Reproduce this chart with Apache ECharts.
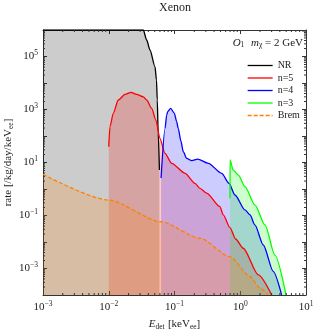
<!DOCTYPE html>
<html><head><meta charset="utf-8">
<script src="https://cdn.jsdelivr.net/npm/echarts@6/dist/echarts.min.js"></script>
<style>html,body{margin:0;padding:0;background:#fff}#c{width:316px;height:329px}</style>
</head><body><div id="c"></div>
<script>
// ---- data ----
const nrE = [0.001, 0.0335, 0.0377, 0.0424, 0.0505, 0.0532, 0.0547, 0.0565, 0.059];
const nrR = [1e6, 1e6, 4.2e5, 1.76e5, 4.1e4, 1.3e4, 2.3e3, 130, 5.2];
const n5E = [0.01, 0.01044, 0.01172, 0.01396, 0.01766, 0.0218, 0.0266, 0.0336, 0.0377, 0.045, 0.052, 0.060, 0.0717, 0.0906, 0.145, 0.205, 0.244, 0.309, 0.49, 0.552, 0.698, 0.85, 1.11, 1.88, 3.0];
const n5R = [39, 224, 720, 2280, 3700, 4460, 3700, 3000, 2280, 1110, 400, 82, 22, 9.3, 3.9, 1.64, 1.06, 0.7, 0.215, 0.105, 0.035, 0.013, 5.8e-3, 5.7e-4, 1e-4];
const n4E = [0.0625, 0.0718, 0.076, 0.0789, 0.0875, 0.0993, 0.108, 0.114, 0.125, 0.136, 0.153, 0.183, 0.225, 0.327, 0.523, 0.675, 0.832, 1.18, 1.41, 1.67, 2.24, 3.19, 4.26];
const n4R = [2.6, 195, 617, 835, 1100, 725, 346, 195, 65, 25.7, 14.4, 11.8, 13.5, 9.3, 3.9, 1.64, 0.594, 0.162, 0.105, 0.044, 7.7e-3, 7.6e-4, 1e-4];
const n3E = [0.698, 0.699, 0.78, 0.933, 1.18, 1.67, 2.38, 3.37, 4.97];
const n3R = [0.446, 12.4, 5.2, 3.4, 1.22, 0.25, 0.044, 3.2e-3, 1e-4];
const brE = [0.001, 0.01, 0.0624, 0.244, 0.698, 1.41, 2.0, 2.7];
const brR = [3.6, 0.38, 0.058, 0.0138, 2.8e-3, 5e-4, 1.8e-4, 1e-4];
const seriesNames = ['NR', 'n=5', 'n=4', 'n=3', 'Brem'];
const xTickExps = [-3, -2, -1, 0, 1];
const yTickExps = [-3, -1, 1, 3, 5];

const FONT = 'Liberation Serif';
const pair = (xs, ys) => xs.map((x, i) => [x, ys[i]]);
const sup = v => {
  const e = Math.round(Math.log10(v));
  return '{b|10}{s|' + (e < 0 ? '\u2212' + (-e) : e) + '}';
};
const rich = {
  b: {fontFamily: FONT, fontSize: 11, color: '#222'},
  s: {fontFamily: FONT, fontSize: 7.5, color: '#222', padding: [0, 0, 7, 0]}
};
const xMinor = [], yMinor = [];
for (let k = -3; k < 1; k++) for (let m = 2; m <= 9; m++) xMinor.push(m * Math.pow(10, k));
for (let k = -4; k < 6; k++) for (let m = 2; m <= 9; m++) yMinor.push(m * Math.pow(10, k));

function mk(name, xs, ys, color, dashed) {
  return {
    name, type: 'line', data: pair(xs, ys), showSymbol: false, symbol: 'none',
    clip: true, smooth: 0.25, smoothMonotone: 'x',
    lineStyle: {color, width: 1.3, type: dashed ? [4, 2] : 'solid'},
    itemStyle: {color},
    areaStyle: {color, opacity: 0.2, origin: 'start'},
    z: 3
  };
}
const chart = echarts.init(document.getElementById('c'), null, {renderer: 'canvas'});
const axisCommon = {
  type: 'log', logBase: 10,
  axisLine: {show: true, onZero: false, lineStyle: {color: '#333', width: 1}},
  splitLine: {show: false},
  axisTick: {show: true, inside: true, length: 4, lineStyle: {color: '#333'}},
};
chart.setOption({
  animation: false,
  backgroundColor: '#fff',
  title: {text: 'Xenon', left: 175, textAlign: 'center', top: 2, padding: 0,
    textStyle: {fontFamily: FONT, fontSize: 12, fontWeight: 'normal', color: '#222'}},
  grid: {left: 43, right: 10, top: 30, bottom: 34, containLabel: false, outerBoundsMode: 'none'},
  legend: {
    orient: 'vertical', left: 247, top: 60.5, padding: 0, itemWidth: 25, itemHeight: 10, itemGap: 2.5,
    itemStyle: {opacity: 0, borderWidth: 0},
    lineStyle: {width: 1.3},
    data: seriesNames,
    textStyle: {fontFamily: FONT, fontSize: 10, color: '#222'}
  },
  xAxis: [
    Object.assign({}, axisCommon, {min: 1e-3, max: 10, interval: 1, position: 'bottom',
      axisLabel: {formatter: sup, rich, margin: 5},
      name: '{i|E}{sub|det} {n|[keV}{sub|ee}{n|]}', nameLocation: 'middle', nameGap: 23,
      nameMoveOverlap: false,
      nameTextStyle: {rich: {
        i: {fontFamily: FONT, fontSize: 11, fontStyle: 'italic', color: '#222'},
        n: {fontFamily: FONT, fontSize: 11, color: '#222'},
        sub: {fontFamily: FONT, fontSize: 7.5, color: '#222', padding: [5, 0, 0, 0]}
      }}}),
    Object.assign({}, axisCommon, {min: 1e-3, max: 10, interval: 1, position: 'top',
      axisLabel: {show: false}})
  ],
  yAxis: [
    Object.assign({}, axisCommon, {min: 1e-4, max: 1e6, interval: 1, position: 'left',
      axisLabel: {formatter: v => {
        const e = Math.round(Math.log10(v));
        return yTickExps.includes(e) ? sup(v) : '';
      }, rich, margin: 5},
      name: '{n|rate [/kg/day/keV}{sub|ee}{n|]}', nameLocation: 'middle', nameGap: 28, nameRotate: 90,
      nameMoveOverlap: false,
      nameTextStyle: {rich: {
        n: {fontFamily: FONT, fontSize: 11, color: '#222'},
        sub: {fontFamily: FONT, fontSize: 7.5, color: '#222', padding: [5, 0, 0, 0]}
      }}}),
    Object.assign({}, axisCommon, {min: 1e-4, max: 1e6, interval: 1, position: 'right',
      axisLabel: {show: false}})
  ],
  graphic: [{
    type: 'text', right: 13, top: 37, z: 10,
    style: {
      text: '{i|O}{sub|1}  {i|m}{sub|\u03c7}{n| = 2 GeV}',
      rich: {
        i: {fontFamily: FONT, fontSize: 11, fontStyle: 'italic', fill: '#222'},
        n: {fontFamily: FONT, fontSize: 11, fill: '#222'},
        sub: {fontFamily: FONT, fontSize: 7.5, fill: '#222', padding: [5, 0, 0, 0]}
      }
    }
  }],
  series: [
    mk('NR', nrE, nrR, '#000000', false),
    mk('n=5', n5E, n5R, '#ff0000', false),
    mk('n=4', n4E, n4R, '#0000ff', false),
    mk('n=3', n3E, n3R, '#00ff00', false),
    mk('Brem', brE, brR, '#ff8000', true),
    {
      type: 'custom', coordinateSystem: 'cartesian2d', silent: true, z: 5,
      data: xMinor.map(v => [v, 1e-4, 0]).concat(yMinor.map(v => [1e-3, v, 1])),
      renderItem: (params, api) => {
        const cs = params.coordSys;
        const kind = api.value(2);
        const p = api.coord([api.value(0), api.value(1)]);
        const st = {stroke: '#333', lineWidth: 1};
        if (kind === 0) {
          return {type: 'group', children: [
            {type: 'line', shape: {x1: p[0], y1: cs.y + cs.height, x2: p[0], y2: cs.y + cs.height - 2}, style: st},
            {type: 'line', shape: {x1: p[0], y1: cs.y, x2: p[0], y2: cs.y + 2}, style: st}
          ]};
        }
        return {type: 'group', children: [
          {type: 'line', shape: {x1: cs.x, y1: p[1], x2: cs.x + 2, y2: p[1]}, style: st},
          {type: 'line', shape: {x1: cs.x + cs.width, y1: p[1], x2: cs.x + cs.width - 2, y2: p[1]}, style: st}
        ]};
      }
    }
  ]
});
</script></body></html>
